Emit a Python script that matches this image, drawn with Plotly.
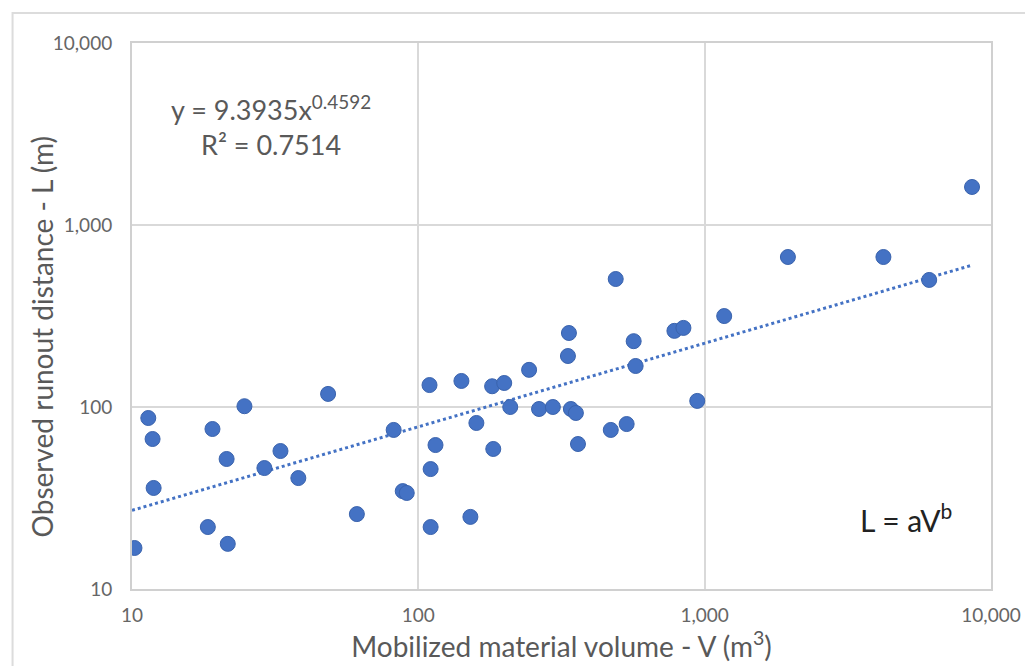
import plotly.graph_objects as go

# Data (volume V in m3, runout L in m)
volume_v = [10.2, 11.4, 11.8, 11.9, 18.4, 21.6, 19.1, 21.4, 24.7, 29.0,
            33.0, 38.1, 48.4, 61.0, 82.0, 88.2, 91.1, 109.4, 114.8, 110.4,
            110.4, 141.4, 152, 159.5, 181, 199.5, 182.7, 209.4, 243.7, 264,
            295, 335.7, 333, 341, 355, 361, 470, 534, 489, 565,
            574, 784, 843, 942, 1170, 1953, 4210, 6083, 8585]
runout_l = [16.8, 87.0, 66.7, 35.9, 21.9, 17.7, 75.7, 51.8, 101, 46.2,
            57.3, 40.7, 118, 25.8, 74.8, 34.5, 33.7, 132, 61.8, 45.6,
            21.9, 139, 24.9, 81.7, 130, 135.5, 58.8, 100, 160, 97.5,
            100, 255, 190.6, 97.5, 92.7, 62.6, 74.8, 80.6, 505, 230,
            168, 262, 272, 108, 316, 667, 667, 499, 1618]

# Power trendline shown in the chart: y = a * x^b
fit_a = 9.3935
fit_b = 0.4592
trend_x = [10, 8585]
trend_y = [fit_a * v ** fit_b for v in trend_x]

tick_vals = [10, 100, 1000, 10000]
tick_text = ["10", "100", "1,000", "10,000"]

blue = "#4472C4"
grey_txt = "#595959"
font_family = "Lato, Open Sans, sans-serif"

# the page adds an 8px body margin, so the figure is sized to fit the window
W, H = 1025, 658
ML, MR, MT, MB = 124, 38, 35, 77
PW, PH = W - ML - MR, H - MT - MB


def px(xw):
    return (xw - 8 - ML) / PW


def py(yw):
    return (H - MB - (yw - 8)) / PH


fig = go.Figure()
fig.add_trace(go.Scatter(x=trend_x, y=trend_y, mode="lines",
                         line=dict(color="#4472C4", width=3, dash="dot"),
                         showlegend=False, hoverinfo="skip"))
fig.add_trace(go.Scatter(x=volume_v, y=runout_l, mode="markers",
                         marker=dict(color=blue, size=15,
                                     line=dict(color="#3a63ad", width=1)),
                         showlegend=False))

axis_common = dict(type="log", range=[1, 4], tickvals=tick_vals, ticktext=tick_text,
                   showgrid=True, gridcolor="#d9d9d9", gridwidth=1.5,
                   showline=True, linecolor="#d0d0d0", linewidth=2, mirror=True,
                   ticks="", zeroline=False,
                   tickfont=dict(family=font_family, size=19, color="#666666"))

fig.update_layout(
    width=W, height=H,
    margin=dict(l=ML, r=MR, t=MT, b=MB),
    paper_bgcolor="white", plot_bgcolor="white",
    xaxis=dict(**axis_common, ticklabelstandoff=8,
               title=dict(text="Mobilized material volume - V (m<sup>3</sup>)",
                          font=dict(family=font_family, size=28, color=grey_txt),
                          standoff=4)),
    yaxis=dict(**axis_common, ticklabelstandoff=14),
    annotations=[
        dict(xref="paper", yref="paper", x=px(42), y=py(337),
             xanchor="center", yanchor="middle", textangle=-90,
             text="Observed runout distance - L (m)", showarrow=False,
             font=dict(family=font_family, size=28, color=grey_txt)),
        dict(xref="paper", yref="paper", x=px(272), y=py(108),
             xanchor="center", yanchor="middle",
             text="y = 9.3935x<sup>0.4592</sup>", showarrow=False,
             font=dict(family=font_family, size=27, color=grey_txt)),
        dict(xref="paper", yref="paper", x=px(272), y=py(144),
             xanchor="center", yanchor="middle",
             text="R² = 0.7514", showarrow=False,
             font=dict(family=font_family, size=27, color=grey_txt)),
        dict(xref="paper", yref="paper", x=px(910), y=py(518),
             xanchor="center", yanchor="middle",
             text="L = aV<sup>b</sup>", showarrow=False,
             font=dict(family=font_family, size=30, color="#222222")),
    ],
    shapes=[
        dict(type="rect", xref="paper", yref="paper",
             x0=px(12), x1=1.2, y0=-0.3, y1=py(13),
             line=dict(color="#dcdcdc", width=2), layer="below"),
    ],
)

fig.write_html("out.html")
